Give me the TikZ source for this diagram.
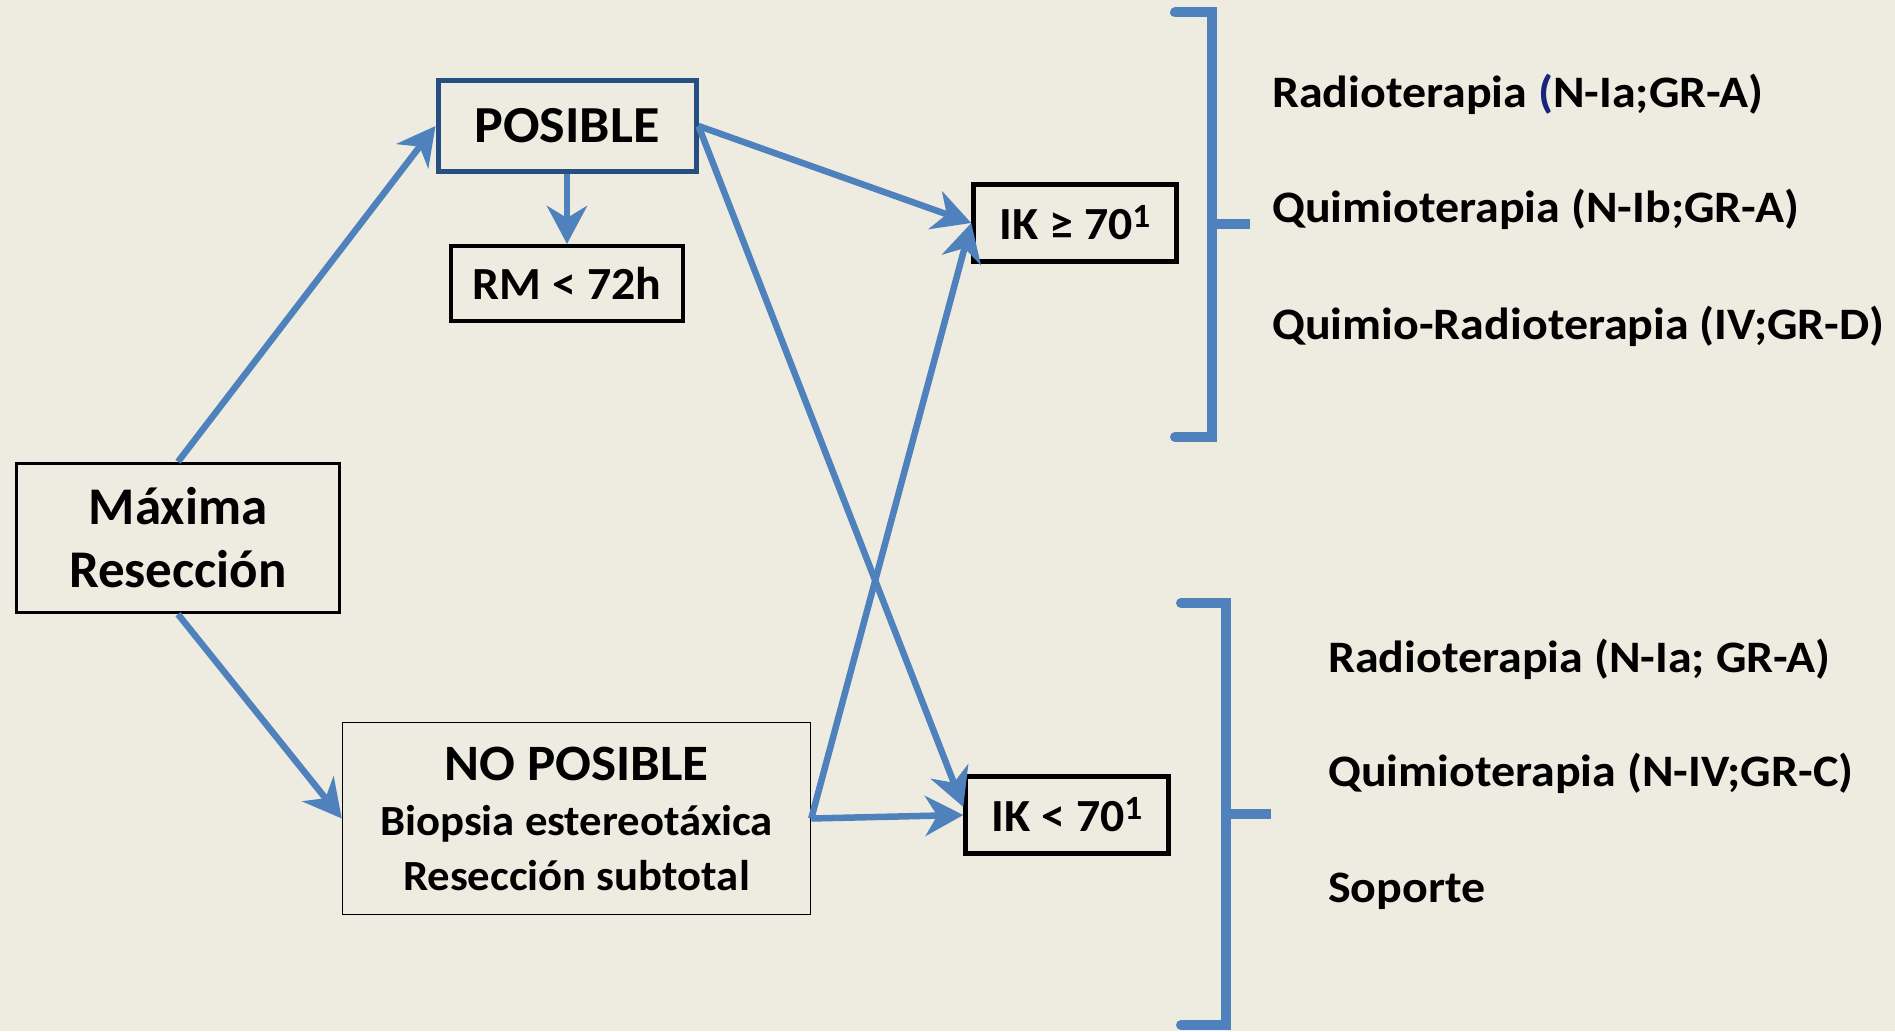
\documentclass[tikz,border=0pt]{standalone}
\usepackage{fontspec}
\setmainfont{Carlito}[FakeStretch=1.04]
\newfontfamily\anchafont{Carlito}[FakeStretch=1.066]
\newfontfamily\rectafont{Carlito}
\usepackage{tikz}
\usetikzlibrary{arrows.meta,positioning}
\definecolor{fondo}{HTML}{EEECE1}
\definecolor{azul}{HTML}{4F81BD}
\definecolor{marino}{HTML}{264E80}
\definecolor{tinta}{HTML}{1A237E}
\newcommand{\supuno}{{\fontsize{34}{34}\selectfont\raisebox{12pt}{1}}}
\tikzset{
  caja/.style={draw=black, line width=4.5pt, align=center, inner sep=0pt, font=\bfseries\fontsize{46}{55}\selectfont},
  flecha/.style={draw=azul, line width=6.5pt, -{Stealth[length=38pt,width=40pt,inset=12pt]}},
  llave/.style={draw=azul, line width=10pt, line join=miter},
  texto/.style={anchor=base west, inner sep=0pt, font=\anchafont\bfseries\fontsize{45}{54}\selectfont},
}

\begin{document}
\begin{tikzpicture}[x=1pt,y=1pt,node distance=70pt]
			\fill[fondo] (0,0) rectangle (1895,1031);
			\useasboundingbox (0,0) rectangle (1895,1031);
			% Define nodes
			\node[caja, line width=3.5pt, minimum width=323pt, minimum height=149pt, font=\rectafont\bfseries\fontsize{53}{63}\selectfont] (max) at (178,493) {Máxima\\Resección}; %
			\node[caja, draw=marino, line width=5pt, minimum width=258pt, minimum height=91pt, font=\bfseries\fontsize{52}{60}\selectfont] (pos) at (567,905) {POSIBLE}; %
			\node[caja, minimum width=232pt, minimum height=75pt, below=of pos] (rm) {RM < 72h}; %
			\node[caja, minimum width=203pt, minimum height=77pt] (ikhi) at (1075,808) {IK ≥ 70\supuno}; %
			\node[caja, minimum width=203pt, minimum height=77pt] (iklo) at (1067,216) {IK < 70\supuno}; %
			\node[caja, line width=1.5pt, minimum width=468pt, minimum height=192pt, font=\bfseries\fontsize{43}{55}\selectfont] (nopos) at (576.5,212.5) {{\fontsize{51}{56}\selectfont NO POSIBLE}\\Biopsia estereotáxica\\Resección subtotal}; %
			% tratamientos
			\node[texto] (radio1) at (1272,923) {Radioterapia {\color{tinta}(}N-Ia;GR-A)}; %
			\node[texto] (quimio1) at (1272,808) {Quimioterapia (N-Ib;GR-A)}; %
			\node[texto] (quimrad) at (1272,691) {Quimio-Radioterapia (IV;GR-D)}; %
			\node[texto] (radio2) at (1328,358) {Radioterapia (N-Ia; GR-A)}; %
			\node[texto] (quimio2) at (1328,244) {Quimioterapia (N-IV;GR-C)}; %
			\node[texto] (soporte) at (1328,129) {Soporte}; %
			%%add edge
			\draw[flecha] (max.north) -- (pos.west);
			\draw[flecha] (max.south) -- (nopos.west);
			\draw[flecha] (pos.south) -- (rm.north);
			\draw[flecha] (pos.east) -- (ikhi.west);
			\draw[flecha] (pos.east) -- ([yshift=8pt]iklo.west);
			\draw[flecha] (nopos.east) -- (ikhi.west);
			\draw[flecha] (nopos.east) -- (iklo.west);
			%%brackets
			\draw[llave, line cap=round] (1175,1018.5) -- (1212,1018.5) -- (1212,594) -- (1175,594);
			\draw[llave] (1212,807) -- (1250,807);
			\draw[llave, line cap=round] (1181,428) -- (1226,428) -- (1226,6) -- (1181,6);
			\draw[llave] (1226,217) -- (1271,217);
\end{tikzpicture}
\end{document}
